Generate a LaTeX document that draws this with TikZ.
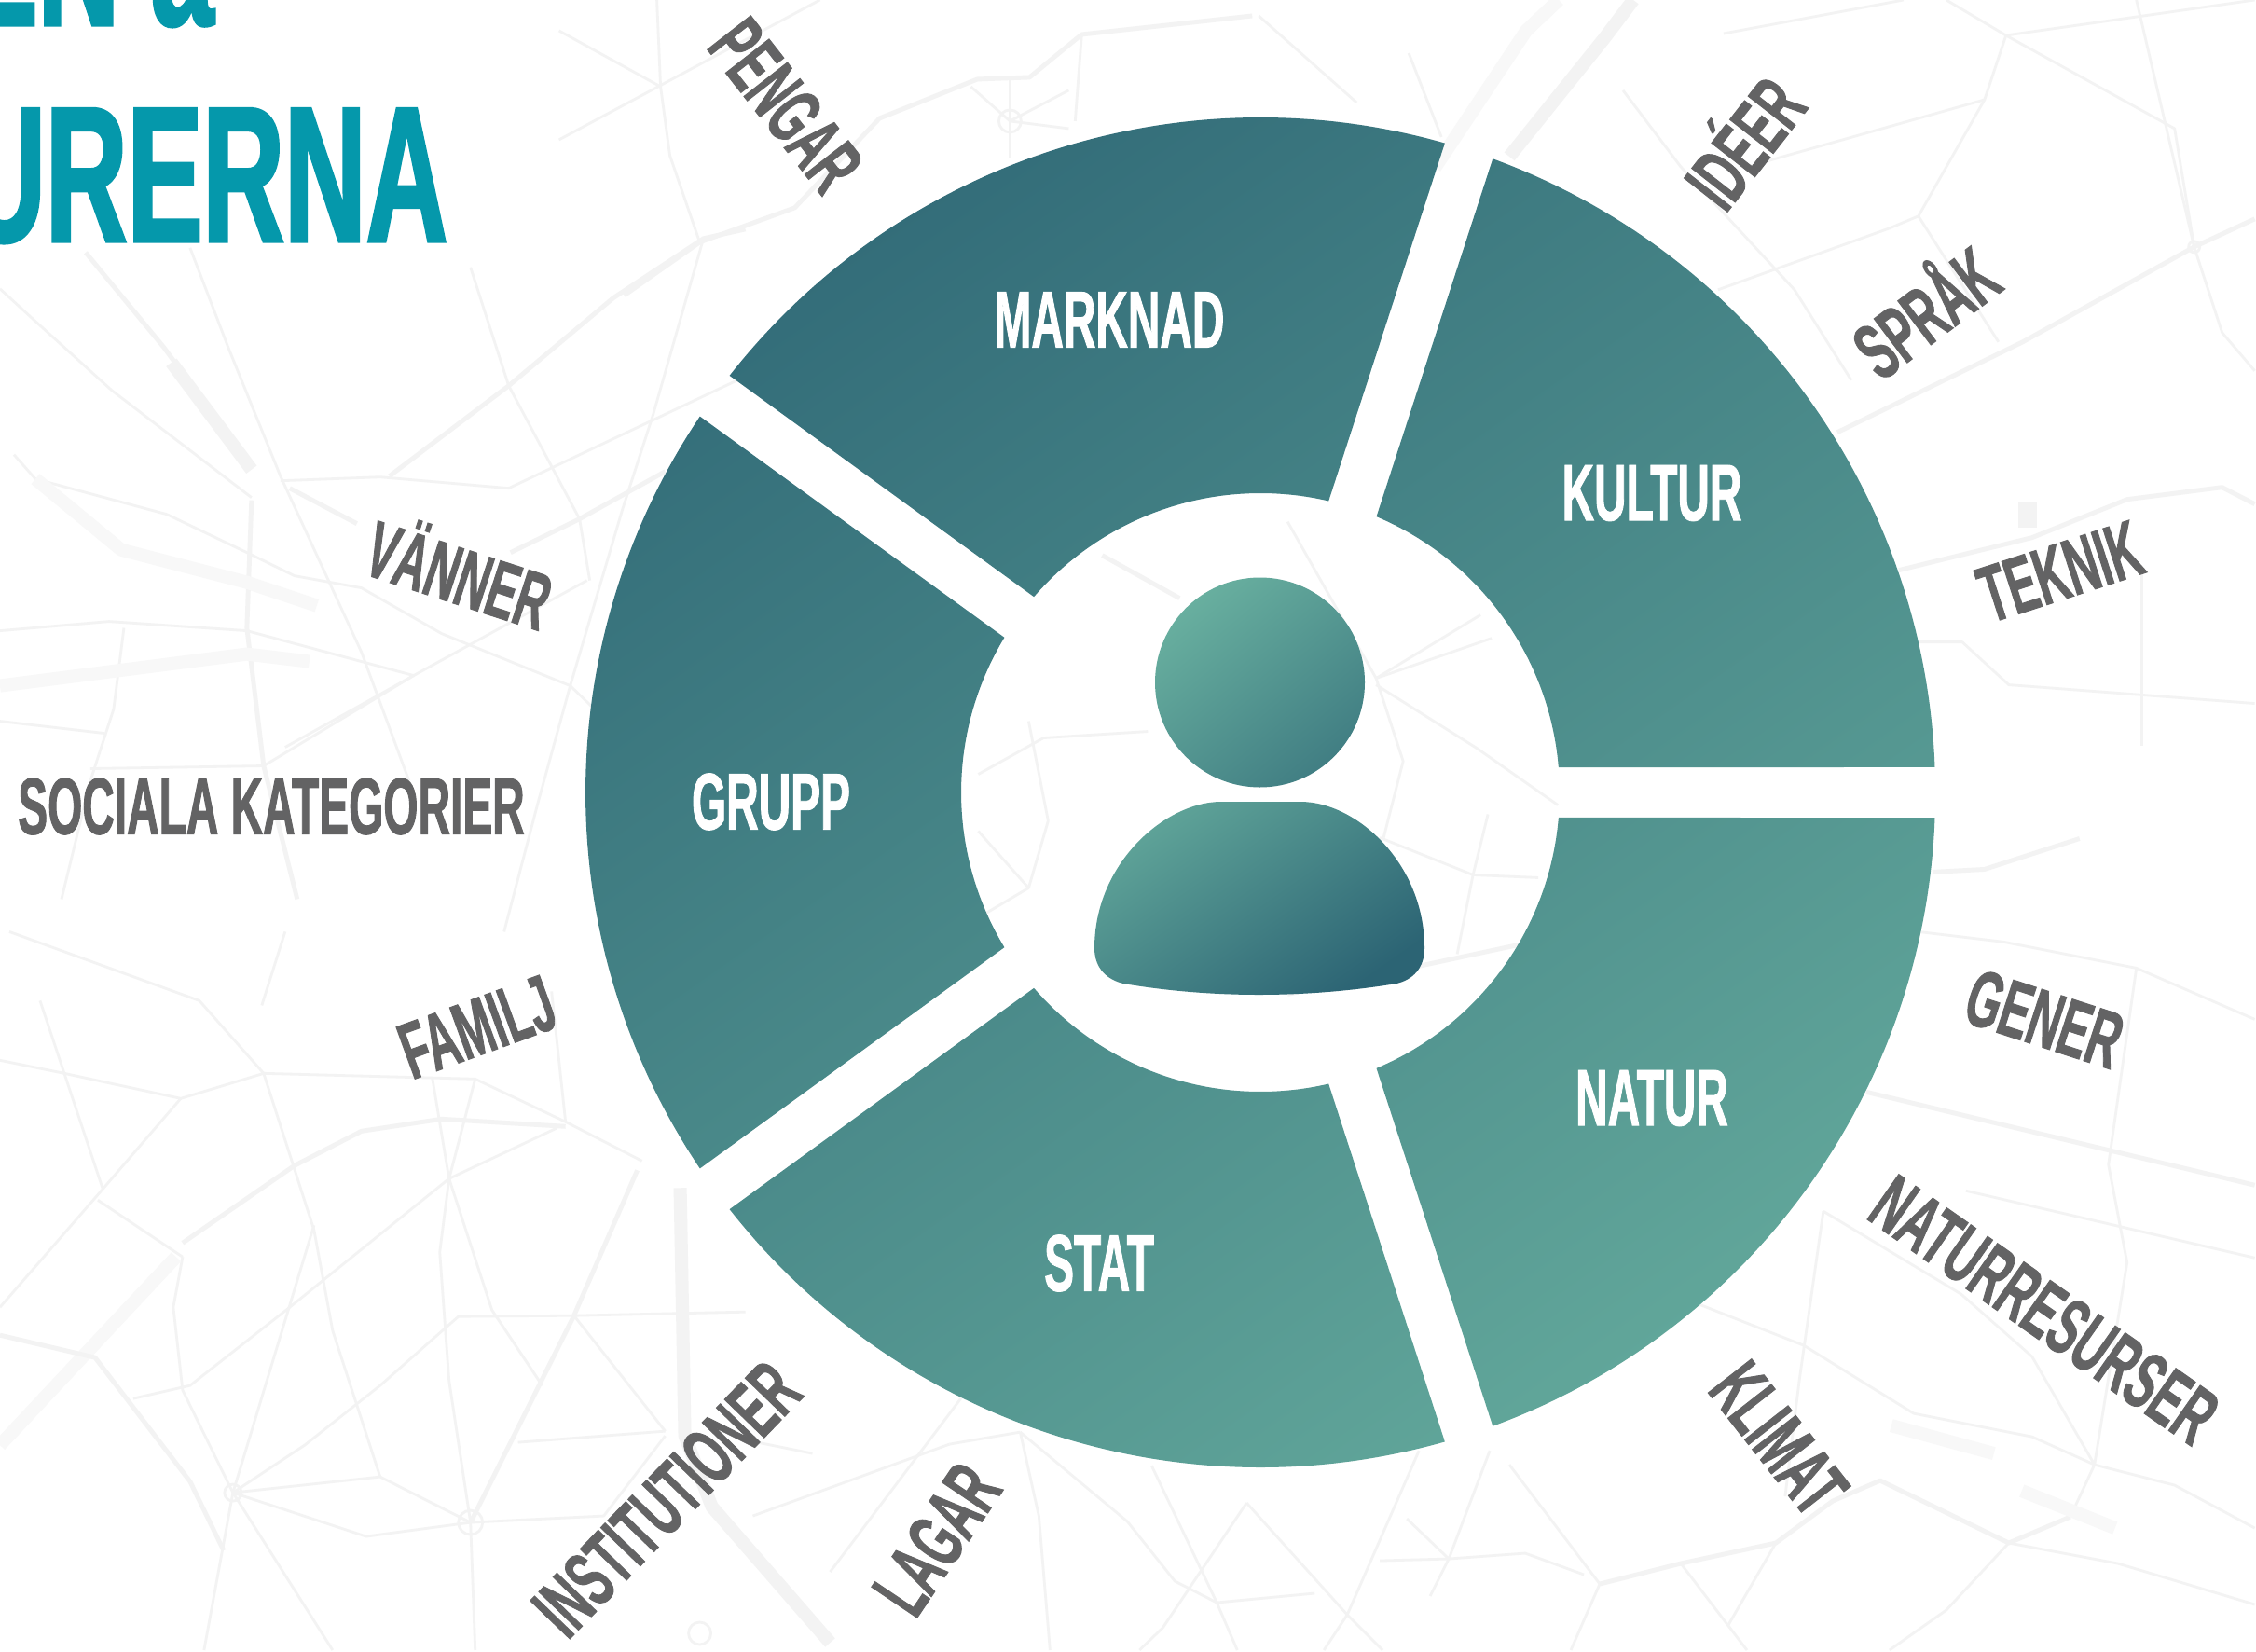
\documentclass[tikz,border=0pt]{standalone}
\usepackage{fontspec}
\usepackage{tikz}
\usetikzlibrary{positioning}
\newfontfamily\bebasfont[FakeStretch=0.555,FakeBold=1]{Liberation Sans Bold}
\newfontfamily\bebastitle[FakeStretch=0.585,FakeBold=1.5]{Liberation Sans Bold}
\definecolor{titleteal}{HTML}{0598AB}
\definecolor{labelgrey}{HTML}{636364}
\definecolor{ringdark}{HTML}{2C6474}
\definecolor{ringlight}{HTML}{68AF9F}
\definecolor{mapgrey}{HTML}{F3F3F3}
\definecolor{mapfaint}{HTML}{F8F8F8}
\tikzset{
  outerlabel/.style={text=labelgrey,font=\bebasfont\fontsize{24.5pt}{24.5pt}\selectfont,inner sep=0pt},
  ringlabel/.style={text=white,font=\bebasfont\fontsize{24.5pt}{24.5pt}\selectfont,inner sep=0pt},
  titlelabel/.style={text=titleteal,font=\bebastitle\fontsize{59pt}{59pt}\selectfont,inner sep=0pt},
  mapline/.style={draw=mapgrey,line width=0.8pt,line join=round},
  mapwide/.style={draw=mapgrey,line width=1.4pt,line join=round},
  maprail/.style={draw=mapfaint,line width=4pt,line join=round},
  mapriver/.style={draw=mapgrey,line width=4pt,line join=round}
}
% one ring piece, from axis #1 to axis #1+72
\newcommand{\ringpiece}[1]{
  (#1+2.14:7.24) arc (#1+2.14:#1+69.86:7.24)
  -- (#1+67.18:3.21) arc (#1+67.18:#1+4.82:3.21) -- cycle
}
\begin{document}
\begin{tikzpicture}
\useasboundingbox (0,0) rectangle (24.2,17.71);
\clip (0,0) rectangle (24.2,17.71);
\fill [white] (0,0) rectangle (24.2,17.71);
% map behind everything, in reference pixels
\begin{scope}[x=0.01cm,y=-0.01cm,shift={(0cm,17.71cm)}]
% left, upper
\draw [mapline] (0,310) -- (36,343) -- (120,419) -- (270,534);
\draw [mapwide] (92,271) -- (176,373) -- (270,501);
\draw [mapriver] (184,389) -- (270,504);
\draw [mapline] (204,266) -- (245,373) -- (301,511) -- (388,700) -- (439,838);
\draw [mapwide] (270,537) -- (265,674) -- (283,822) -- (319,965);
\draw [mapline] (301,516) -- (408,512) -- (546,524) -- (800,404);
\draw [mapwide] (418,511) -- (546,414) -- (658,320) -- (755,256) -- (800,246);
\draw [mapline] (505,287) -- (546,414) -- (622,557) -- (633,623);
\draw [mapline] (755,256) -- (701,445) -- (668,547) -- (612,736) -- (577,863) -- (541,1000);
\draw [mapwide] (311,524) -- (383,562);
\draw [mapwide] (548,593) -- (622,557) -- (714,506);
\draw [mapline] (15,488) -- (38,514) -- (179,552) -- (265,593) -- (316,618) -- (388,631) -- (474,680) -- (612,736) -- (638,761);
\draw [maprail] (38,514) -- (130,590) -- (265,625) -- (340,650);
\draw [mapline] (0,677) -- (117,667) -- (265,677) -- (444,725);
\draw [mapline] (306,802) -- (444,725) -- (630,623);
\draw [mapline] (0,774) -- (112,787);
\draw [mapline] (133,674) -- (122,761) -- (97,838) -- (66,965);
\draw [maprail] (0,736) -- (265,702) -- (332,710);
\draw [mapline] (97,825) -- (283,822) -- (444,725);
% left, lower
\draw [mapline] (0,1138) -- (69,1152) -- (194,1179) -- (283,1152) -- (510,1158) -- (607,1204) -- (689,1246);
\draw [mapline] (43,1074) -- (69,1152) -- (110,1275);
\draw [mapline] (0,1403) -- (107,1280) -- (194,1179);
\draw [mapline] (10,1000) -- (214,1074) -- (283,1152) -- (337,1320) -- (357,1428) -- (408,1585);
\draw [mapline] (105,1288) -- (196,1349);
\draw [mapwide] (196,1334) -- (316,1251) -- (388,1214) -- (474,1201) -- (607,1209);
\draw [mapline] (281,1079) -- (306,1000);
\draw [mapline] (464,1157) -- (482,1265) -- (472,1344) -- (482,1482) -- (505,1634);
\draw [mapline] (592,1064) -- (607,1204);
\draw [mapline] (510,1158) -- (482,1265) -- (528,1406) -- (582,1487);
\draw [mapline] (597,1211) -- (482,1265) -- (311,1403) -- (204,1487) -- (143,1501);
\draw [mapline] (196,1349) -- (186,1403) -- (196,1492) -- (250,1602);
\draw [mapline] (250,1602) -- (327,1551) -- (408,1487) -- (492,1413) -- (616,1412) -- (800,1408);
\draw [mapline] (250,1602) -- (337,1315);
\draw [mapwide] (684,1256) -- (616,1412) -- (505,1634);
\draw [mapline] (505,1634) -- (408,1585) -- (250,1602);
\draw [mapline] (505,1634) -- (648,1627) -- (714,1541);
\draw [mapline] (505,1634) -- (510,1771);
\draw [mapline] (505,1634) -- (393,1649) -- (250,1602) -- (357,1771);
\draw [mapline] (250,1602) -- (219,1771);
\draw [mapline] (616,1412) -- (714,1536);
\draw [mapline] (556,1548) -- (714,1536);
\draw [maprail] (0,1551) -- (189,1349);
\draw [mapwide] (0,1433) -- (102,1457) -- (204,1590) -- (240,1664);
\draw [mapriver] (730,1275) -- (735,1541) -- (764,1617) -- (891,1763);
\draw [mapline] (250,1602) circle (9);
\draw [mapline] (505,1634) circle (13);
% top and bottom middle
\draw [mapline] (600,150) -- (880,0);
\draw [mapline] (705,0) -- (709,93) -- (719,167) -- (751,260);
\draw [mapline] (600,33) -- (709,93);
\draw [mapwide] (670,317) -- (751,260) -- (853,223) -- (944,127) -- (1049,85) -- (1105,83) -- (1161,37) -- (1344,17);
\draw [mapline] (1161,37) -- (1154,130);
\draw [mapline] (1042,93) -- (1084,130) -- (1147,97);
\draw [mapline] (1084,130) -- (1147,138);
\draw [mapline] (1084,85) -- (1084,170);
\draw [mapline] (1084,130) circle (12);
\draw [mapline] (1351,17) -- (1456,110);
\draw [mapline] (1512,57) -- (1547,147);
\draw [mapriver] (1620,168) -- (1722,41) -- (1753,0);
\draw [maprail] (1540,180) -- (1638,33) -- (1673,0);
\draw [mapline] (1095,1537) -- (1115,1627) -- (1127,1771);
\draw [mapline] (1095,1537) -- (1210,1633) -- (1261,1697) -- (1306,1720) -- (1328,1771);
\draw [mapline] (1306,1720) -- (1411,1710);
\draw [mapline] (1236,1573) -- (1306,1720);
\draw [mapline] (1338,1613) -- (1446,1733) -- (1484,1771);
\draw [mapline] (1338,1613) -- (1248,1747) -- (1223,1771);
\draw [mapline] (1510,1630) -- (1555,1673) -- (1637,1667) -- (1700,1690);
\draw [mapline] (1523,1557) -- (1446,1733) -- (1421,1771);
\draw [mapline] (1599,1557) -- (1555,1673) -- (1535,1713);
\draw [mapline] (1555,1673) -- (1481,1675);
\draw [mapline] (1019,1550) -- (808,1627);
\draw [mapline] (891,1687) -- (1032,1500);
\draw [mapline] (1095,1537) -- (1019,1550);
\draw [mapline] (872,1560) -- (808,1547);
\draw [mapline] (751,1753) circle (12);
% right, upper
\draw [mapwide] (1972,464) -- (2171,367) -- (2355,265) -- (2420,235);
\draw [mapline] (1850,36) -- (2043,0);
\draw [mapline] (2089,0) -- (2153,38) -- (2334,138) -- (2355,265) -- (2385,357) -- (2420,398);
\draw [mapline] (2293,0) -- (2355,265);
\draw [mapline] (1875,179) -- (2130,107) -- (2153,38) -- (2420,0);
\draw [mapline] (1742,97) -- (1804,179) -- (1926,311) -- (1987,408);
\draw [mapline] (1844,311) -- (2028,245) -- (2059,232) -- (2130,107);
\draw [mapline] (2059,232) -- (2145,367);
\draw [mapwide] (2038,612) -- (2181,577) -- (2283,536) -- (2385,523) -- (2420,541);
\draw [mapline] (2059,689) -- (2106,689) -- (2156,735) -- (2420,755);
\draw [mapline] (2299,612) -- (2299,800);
\fill [mapgrey] (2166,538) rectangle (2186,566);
\draw [mapline] (2355,265) circle (6);
% right, lower
\draw [mapwide] (2003,1172) -- (2420,1272);
\draw [mapwide] (2074,936) -- (2130,933) -- (2232,900);
\draw [mapline] (1957,1300) -- (2105,1389) -- (2181,1456) -- (2248,1572) -- (2222,1628);
\draw [mapline] (1824,1400) -- (1936,1444) -- (2054,1517) -- (2181,1542) -- (2248,1572) -- (2334,1594) -- (2420,1640);
\draw [mapline] (1957,1300) -- (1931,1483) -- (1916,1606);
\draw [mapline] (1620,1572) -- (1717,1700) -- (1686,1771);
\draw [mapwide] (1717,1700) -- (1804,1678) -- (1906,1656) -- (1967,1611) -- (2018,1589) -- (2156,1656) -- (2222,1628);
\draw [mapline] (1906,1656) -- (1855,1744);
\draw [mapline] (2156,1656) -- (2089,1728) -- (2028,1771);
\draw [mapline] (1804,1678) -- (1875,1771);
\draw [mapline] (2156,1656) -- (2273,1678) -- (2420,1722);
\draw [mapline] (2059,1000) -- (2151,1011) -- (2293,1039) -- (2420,1094);
\draw [mapline] (2293,1039) -- (2263,1250) -- (2283,1355) -- (2248,1572);
\draw [mapline] (2110,1278) -- (2420,1350);
\draw [maprail] (2030,1530) -- (2140,1560);
\draw [maprail] (2170,1600) -- (2270,1640);
% inside the ring
\draw [mapline] (1050,831) -- (1120,792) -- (1232,785);
\draw [mapline] (1104,774) -- (1125,881) -- (1104,953);
\draw [mapline] (1601,685) -- (1477,728) -- (1382,560);
\draw [mapline] (1589,660) -- (1477,728) -- (1506,817) -- (1485,899);
\draw [mapline] (1477,735) -- (1585,803) -- (1672,864);
\draw [mapwide] (1183,596) -- (1266,642);
\draw [mapline] (1481,899) -- (1581,939) -- (1651,942);
\draw [mapline] (1597,874) -- (1581,939) -- (1564,1024);
\draw [mapline] (1050,985) -- (1104,953) -- (1050,892);
\draw [mapwide] (1382,1067) -- (1630,1014);
\end{scope}
% the ring, with one gradient over all five pieces
\begin{scope}[shift={(13.52,9.21)}]
\begin{scope}
\clip \ringpiece{0} \ringpiece{72} \ringpiece{144} \ringpiece{216} \ringpiece{288};
\shade [top color=ringdark,bottom color=ringlight,shading angle=35] (-9.6,-9.6) rectangle (9.6,9.6);
\end{scope}
\end{scope}
% the person
\shade [top color=ringlight,bottom color=ringdark!65!ringlight,shading angle=40] (13.515,10.39) circle (1.125);
\shade [top color=ringlight!85!ringdark,bottom color=ringdark,shading angle=35]
  (11.74,7.54) .. controls (11.74,8.45) and (12.5,9.11) .. (13.1,9.11)
  -- (13.95,9.11) .. controls (14.55,9.11) and (15.28,8.45) .. (15.28,7.54)
  .. controls (15.28,7.32) and (15.15,7.2) .. (14.98,7.16)
  .. controls (14.0,7.0) and (13.0,7.0) .. (12.05,7.16)
  .. controls (11.88,7.2) and (11.74,7.32) .. (11.74,7.54) -- cycle;
% ring labels
\node (marknad) at (11.90,14.28) [ringlabel] {MARKNAD};
\node (kultur) at (17.72,12.42) [ringlabel] {KULTUR};
\node (grupp) at (8.27,9.11) [ringlabel] {GRUPP};
\node (stat) at (11.79,4.16) [ringlabel] {STAT};
\node (natur) at (17.72,5.93) [ringlabel] {NATUR};
% outer labels
\node (pengar) at (8.43,16.58) [outerlabel,rotate=-52] {PENGAR};
\node (ideer) at (18.66,16.22) [outerlabel,rotate=52] {IDÉER};
\node (sprak) at (20.62,14.41) [outerlabel,rotate=37] {SPRÅK};
\node (teknik) at (22.10,11.58) [outerlabel,rotate=18] {TEKNIK};
\node (gener) at (21.93,6.78) [outerlabel,rotate=-18] {GENER};
\node (naturresurser) at (21.93,3.66) [outerlabel,rotate=-35] {NATURRESURSER};
\node (klimat) at (19.08,2.28) [outerlabel,rotate=-52] {KLIMAT};
\node (lagar) at (10.05,1.20) [outerlabel,rotate=56] {LAGAR};
\node (institutioner) at (7.15,1.63) [outerlabel,rotate=46] {INSTITUTIONER};
\node (familj) at (5.12,6.69) [outerlabel,rotate=20] {FAMILJ};
\node (sociala) at (2.91,9.06) [outerlabel] {SOCIALA KATEGORIER};
\node (vanner) at (4.94,11.60) [outerlabel,rotate=-18] {VÄNNER};
% title, cut by the page
\node (titletop) at (2.3,17.44) [titlelabel,anchor=base east] {EN a};
\node (titlebottom) at (4.81,15.12) [titlelabel,anchor=base east] {URERNA};
\end{tikzpicture}
\end{document}
